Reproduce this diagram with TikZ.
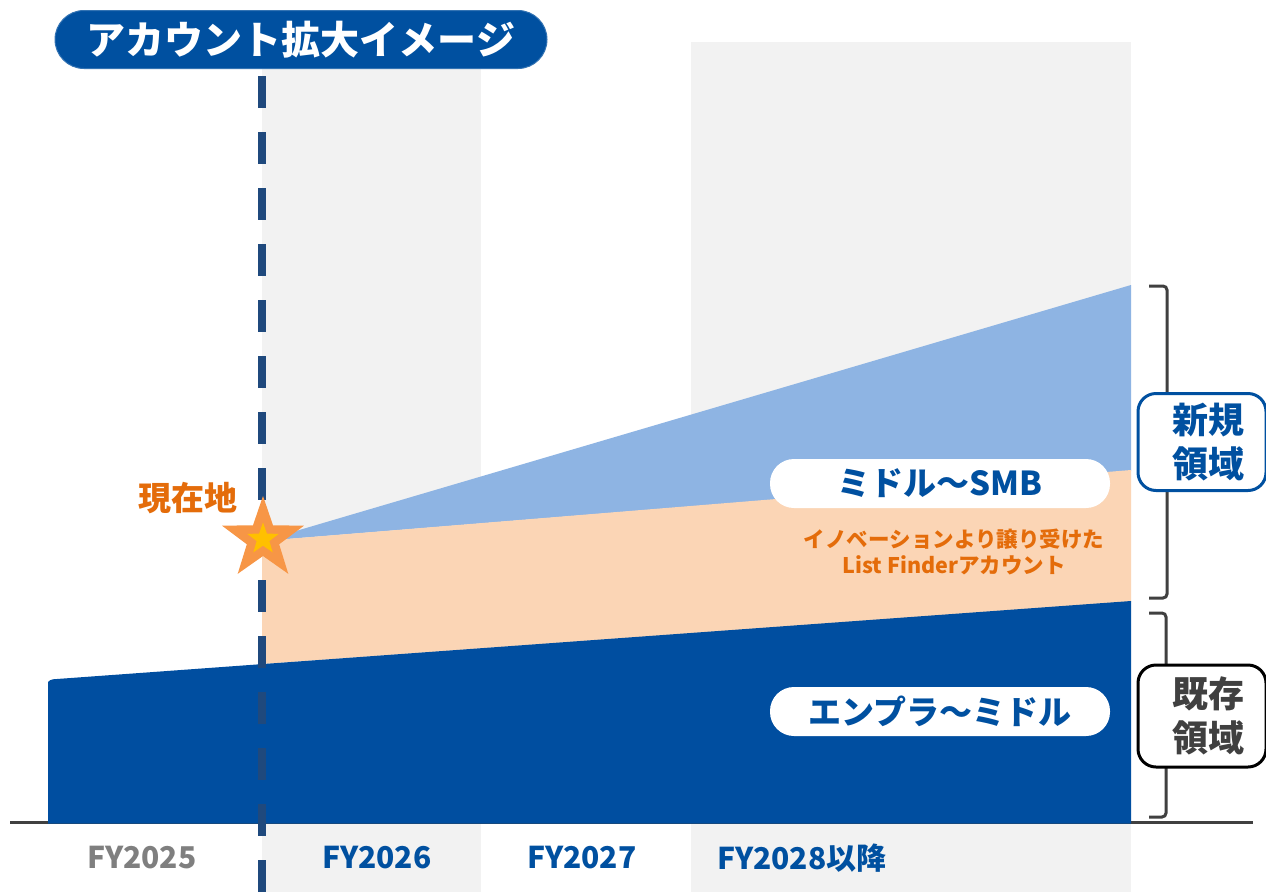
\documentclass[tikz,border=0pt]{standalone}
\usepackage{fontspec}
\setmainfont{Noto Sans CJK JP}
\definecolor{navy}{HTML}{0050A0}
\definecolor{areablue}{HTML}{004EA0}
\definecolor{lightblue}{HTML}{8EB4E3}
\definecolor{peach}{HTML}{FBD5B5}
\definecolor{orangetext}{HTML}{E46C0A}
\definecolor{starorange}{HTML}{F79646}
\definecolor{staryellow}{HTML}{FFC000}
\definecolor{bandgray}{HTML}{F2F2F2}
\definecolor{darkline}{HTML}{404040}
\definecolor{dashnavy}{HTML}{1F497D}
\definecolor{labelgray}{HTML}{7F7F7F}
\newcommand{\fsz}[2]{\fontsize{#1}{#2}\selectfont\bfseries}
\begin{document}
\begin{tikzpicture}[x=1pt,y=-1pt,
  band/.style={fill=bandgray},
  axisline/.style={draw=darkline, line width=3pt},
  dashline/.style={draw=dashnavy, line width=8pt, dash pattern=on 32pt off 24pt},
  pill/.style={fill=white, rounded corners=24pt, minimum width=340pt, minimum height=49pt, inner sep=0pt, text=navy, font=\fsz{33}{40}},
  bracketline/.style={draw=darkline, line width=3pt, rounded corners=4pt},
  areabox/.style={fill=white, line width=3pt, rounded corners=18pt, minimum width=128pt, inner sep=0pt, align=center, font=\fsz{36}{44}},
  areatext/.style={inner sep=0pt, align=center, font=\fsz{36}{44}},
  yearlabel/.style={font=\fsz{30}{36}, text=navy, inner sep=0pt}
]
\useasboundingbox (0,0) rectangle (1266,892);
\fill[white] (0,0) rectangle (1266,892);
% background bands
\fill[band] (262,42) rectangle (481,892);
\fill[band] (691,42) rectangle (1131,892);
% baseline
\coordinate (axL) at (10,822);
\coordinate (axR) at (1253,822);
\draw[axisline] (axL) -- (axR);
% areas
\fill[lightblue] (262,541) -- (1131,285) -- (1131,471) -- cycle;
\fill[peach] (262,541) -- (1131,470) -- (1131,602) -- (262,664) -- cycle;
\fill[areablue] (48,823.5) -- (48,682) [rounded corners=3pt] -- (50,679.5) [sharp corners] -- (1131,601) -- (1131,823.5) -- cycle;
% dashed current line
\coordinate (dtop) at (262,76);
\coordinate (dbot) at (262,892);
\draw[dashline] (dtop) -- (dbot);
% star
\begin{scope}[shift={(263,539)}]
\fill[starorange] (-90:43) -- (-54:17) -- (-18:43) -- (18:17) -- (54:43) -- (90:17) -- (126:43) -- (162:17) -- (198:43) -- (234:17) -- cycle;
\fill[staryellow] (-90:16.5) -- (-54:6.7) -- (-18:16.5) -- (18:6.7) -- (54:16.5) -- (90:6.7) -- (126:16.5) -- (162:6.7) -- (198:16.5) -- (234:6.7) -- cycle;
\end{scope}
\node[text=orangetext, font=\fsz{33}{38}, inner sep=0pt] (now) at (188,498) {現在地};
% title
\node[fill=navy, draw=navy!80!white, line width=1pt, rounded corners=29pt, minimum width=492pt, minimum height=58pt, inner sep=0pt, text=white, font=\fsz{39}{44}] (title) at (301,39.5) {アカウント拡大イメージ};
% pills
\node[pill] (smb) at (940,483.5) {ミドル〜SMB};
\node[pill] (ent) at (940,711.5) {エンプラ〜ミドル};
\node[text=orangetext, font=\fsz{21.5}{25.5}, align=center, inner sep=0pt] (lf) at (954,552) {イノベーションより譲り受けた\\List Finderアカウント};
% brackets
\coordinate (b1a) at (1149,286);
\coordinate (b1b) at (1167,286);
\coordinate (b1c) at (1167,598);
\coordinate (b1d) at (1149,598);
\draw[bracketline] (b1a) -- (b1b) -- (b1c) -- (b1d);
\coordinate (b2a) at (1149,613);
\coordinate (b2b) at (1166,613);
\coordinate (b2c) at (1166,817);
\coordinate (b2d) at (1149,817);
\draw[bracketline] (b2a) -- (b2b) -- (b2c) -- (b2d);
% area boxes
\node[areabox, draw=navy, minimum height=97pt] (newarea) at (1202,442) {};
\node[areatext, text=navy] (newtext) at (1208,442) {新規\\領域};
\node[areabox, draw=black, minimum height=102pt] (oldarea) at (1202,716) {};
\node[areatext, text=darkline] (oldtext) at (1208,716) {既存\\領域};
% year labels
\node[yearlabel, text=labelgray] (fy25) at (142,858) {FY2025};
\node[yearlabel] (fy26) at (377,858) {FY2026};
\node[yearlabel] (fy27) at (582,858) {FY2027};
\node[yearlabel] (fy28) at (802,858) {FY2028以降};
\end{tikzpicture}
\end{document}
